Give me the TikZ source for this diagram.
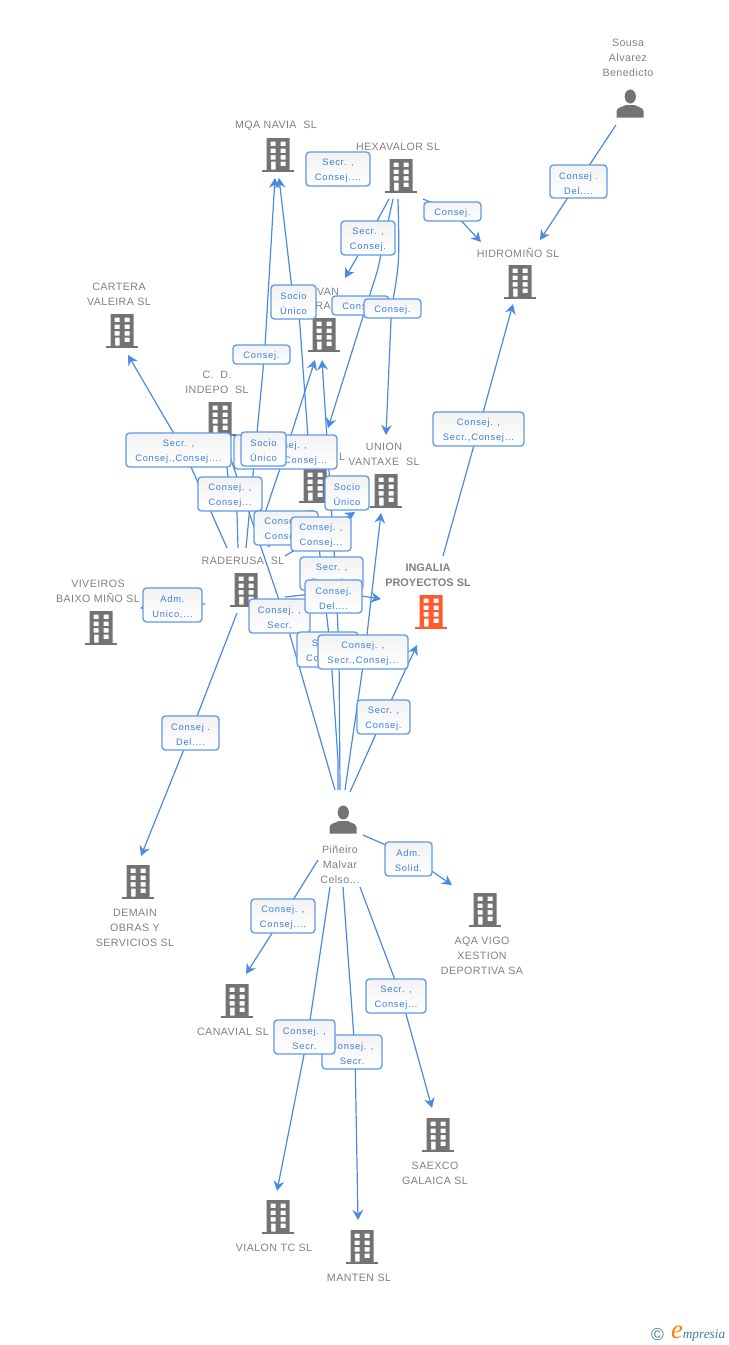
\documentclass[tikz,border=0pt]{standalone}
\usepackage{fontspec}
\usetikzlibrary{arrows.meta,backgrounds}
\setmainfont{Liberation Sans}
\newfontfamily\entfont[LetterSpace=4]{Liberation Sans}
\newfontfamily\boxfont[LetterSpace=8]{Liberation Sans}
\newfontfamily\logofont{Liberation Serif}
\definecolor{linkc}{HTML}{4A8AE0}
\definecolor{bordc}{HTML}{5F9AE8}
\definecolor{boxt}{HTML}{3B7FE0}
\definecolor{entc}{HTML}{808080}
\definecolor{iconc}{HTML}{737373}
\definecolor{hotc}{HTML}{FF5A2B}
\definecolor{logoc}{HTML}{3F7F96}
\tikzset{
  conn/.style={draw=linkc,line width=0.9pt,line join=round},
  arr/.style={conn,-{Stealth[length=7.5pt,width=8pt,inset=2.5pt]}},
  lbl/.style={draw=bordc,line width=1pt,rounded corners=2.6pt,top color=black!5,bottom color=white,
    text=boxt,font=\boxfont\fontsize{7}{11.25}\selectfont,align=center,inner sep=0pt},
  ent/.style={text=entc,font=\entfont\fontsize{8}{11.25}\selectfont,align=center,inner sep=0pt,yshift=-1.1pt},
  entb/.style={text=entc,font=\bfseries\fontsize{8.2}{11.25}\selectfont,align=center,inner sep=0pt,yshift=-1.1pt},
  ico/.style={minimum width=24pt,minimum height=25pt,inner sep=0pt}
}
\newcommand\bldg[4]{%
  \node[ico] (#1) at (#2,#3) {};
  \begin{scope}[shift={(#2,#3)}]
    \fill[#4,even odd rule] (-11.5,-17) rectangle (11.5,15)
      (-7.5,-13.3) rectangle (-2.5,-8.8) (2.5,-13.3) rectangle (7.5,-8.8)
      (-7.5,-6.3) rectangle (-2.5,-1.8) (2.5,-6.3) rectangle (7.5,-1.8)
      (-7.5,0) rectangle (-2.5,4.5) (2.5,0) rectangle (7.5,4.5)
      (-7,6.5) rectangle (-2.5,14.5) (2.5,6.5) rectangle (7.5,11);
    \fill[#4] (-16,14.5) rectangle (16,16.6);
  \end{scope}}
\newcommand\persona[3]{%
  \node[ico] (#1) at (#2,#3) {};
  \begin{scope}[shift={(#2,#3)}]
    \fill[iconc] (0.3,-7.5) ellipse (5.6 and 7);
    \fill[iconc] (-13.5,13.5) -- (-13.5,7) .. controls (-13,3.5) and (-8,3) .. (-4,1) -- (4.5,1)
      .. controls (8,3) and (13,3.5) .. (13.5,7) -- (13.5,13.5) -- cycle;
  \end{scope}}
\newcommand\lab[6]{\node[lbl,minimum width=#4*0.75pt,minimum height=#5*0.75pt] (#1) at (#2,#3) {\rule{0pt}{8pt}#6};}
\begin{document}
\begin{tikzpicture}[x=0.75pt,y=-0.75pt]
\useasboundingbox (0,0) rectangle (728,1345);
% icons
\persona{sousa}{630}{104}
\persona{pin}{343}{820}
\bldg{mqa}{278}{155}{iconc}
\bldg{hexa}{401}{176}{iconc}
\bldg{hidro}{520}{282}{iconc}
\bldg{cartera}{122}{331}{iconc}
\bldg{van}{324}{335}{iconc}
\bldg{indepo}{220}{419}{iconc}
\bldg{lnode}{315}{486}{iconc}
\bldg{union}{386}{491}{iconc}
\bldg{rader}{246}{590}{iconc}
\bldg{viveiros}{101}{628}{iconc}
\bldg{ingalia}{431}{612}{hotc}
\bldg{demain}{138}{882}{iconc}
\bldg{aqa}{485}{910}{iconc}
\bldg{canavial}{237}{1001}{iconc}
\bldg{saexco}{438}{1135}{iconc}
\bldg{vialon}{278}{1217}{iconc}
\bldg{manten}{362}{1247}{iconc}
% entity names
\node[ent] (tsousa) at (628,56) {Sousa\\Alvarez\\Benedicto};
\node[ent] (tmqa) at (276,124) {MQA NAVIA\ \ SL};
\node[ent] (thexa) at (398,145) {HEXAVALOR SL};
\node[ent] (thidro) at (518,251) {HIDROMIÑO SL};
\node[ent] (tcartera) at (119,292.5) {CARTERA\\VALEIRA SL};
\node[ent] (tindepo) at (217,380.5) {C.\ \ D.\\INDEPO\ \ SL};
\node[ent] (tvana) at (328,290) {VAN};
\node[ent] (tvanb) at (323,304) {RA};
\node[ent] (tl) at (342,455) {L};
\node[ent] (tunion) at (384,452.5) {UNION\\VANTAXE\ \ SL};
\node[ent] (trader) at (243,559) {RADERUSA\ \ SL};
\node[ent] (tviv) at (98,589.5) {VIVEIROS\\BAIXO MIÑO SL};
\node[entb] (ting) at (428,573.5) {INGALIA\\PROYECTOS SL};
\node[ent] (tpin) at (340,863) {Piñeiro\\Malvar\\Celso...};
\node[ent] (tdem) at (135,926) {DEMAIN\\OBRAS Y\\SERVICIOS SL};
\node[ent] (taqa) at (482,954) {AQA VIGO\\XESTION\\DEPORTIVA SA};
\node[ent] (tcan) at (233,1030) {CANAVIAL SL};
\node[ent] (tsae) at (435,1171.5) {SAEXCO\\GALAICA SL};
\node[ent] (tvia) at (274,1246) {VIALON TC SL};
\node[ent] (tman) at (359,1276) {MANTEN SL};
% labels
\lab{la}{578.5}{181.5}{57}{33}{Consej .\\Del....}
\lab{lb}{452.5}{211.5}{57}{19}{Consej.}
\lab{lc}{338}{169}{64}{34}{Secr. ,\\Consej....}
\lab{ld}{368}{238}{54}{34}{Secr. ,\\Consej.}
\lab{le}{293.5}{302}{45}{34}{Socio\\Único}
\lab{lf}{360.5}{305.5}{57}{19}{Consej.}
\lab{lg}{392.5}{308.5}{57}{19}{Consej.}
\lab{lh}{261.5}{354.5}{57}{19}{Consej.}
\lab{li}{478.5}{429}{91}{34}{Consej. ,\\Secr.,Consej...}
\lab{lk}{285.5}{452}{103}{34}{Consej. ,\\Consej.,Consej...}
\lab{lj}{178.5}{450}{105}{34}{Secr. ,\\Consej.,Consej....}
\lab{ll}{263.5}{449}{45}{34}{Socio\\Único}
\lab{lm}{230}{494}{64}{34}{Consej. ,\\Consej...}
\lab{ln}{347}{493}{44}{34}{Socio\\Único}
\lab{lo}{286}{528}{64}{34}{Consej. ,\\Consej...}
\lab{lp}{321}{534}{60}{34}{Consej. ,\\Consej...}
\lab{lq}{331.5}{573.5}{63}{33}{Secr. ,\\Consej...}
\lab{lr}{279.5}{616}{61}{34}{Consej. ,\\Secr.}
\lab{ls}{333.5}{596.5}{57}{33}{Consej.\\Del....}
\lab{lt}{172.5}{605}{59}{34}{Adm.\\Unico,...}
\lab{lu}{327.5}{649.5}{61}{35}{Secr. ,\\Consej...}
\lab{lv}{363}{652}{90}{34}{Consej. ,\\Secr.,Consej...}
\lab{lw}{383.5}{717}{53}{34}{Secr. ,\\Consej.}
\lab{lx}{190.5}{733}{57}{34}{Consej .\\Del....}
\lab{ly}{408.5}{859}{47}{34}{Adm.\\Solid.}
\lab{lz}{283}{916}{64}{34}{Consej. ,\\Consej....}
\lab{lza}{396}{996}{60}{34}{Secr. ,\\Consej...}
\lab{lzc}{352}{1052}{60}{34}{Consej. ,\\Secr.}
\lab{lzb}{304.5}{1037}{61}{34}{Consej. ,\\Secr.}
% logo
\node[inner sep=0pt,text=logoc] (logoa) at (657.5,1334) {\fontsize{13}{13}\selectfont ©};
\node[inner sep=0pt,text=orange] (logob) at (677,1332) {\logofont\fontsize{20}{20}\selectfont\itshape e};
\node[inner sep=0pt,text=logoc] (logoc) at (704,1335) {\logofont\fontsize{10}{10}\selectfont\itshape mpresia};
% connectors
\begin{scope}[on background layer]
\draw[arr] ([shift={(-14,21)}]sousa.center) -- (la.center) -- ([shift={(20,-42)}]hidro.center);
\draw[arr] ([shift={(22,23)}]hexa.center) -- (lb.center) -- ([shift={(-39,-40)}]hidro.center);
\draw[arr] ([shift={(-12,23)}]hexa.center) -- (ld.center) -- ([shift={(21,-57)}]van.center);
\draw[arr] ([shift={(-3,23)}]hexa.center) .. controls ([shift={(7,-45)}]lg.center) .. ([shift={(-1,0)}]lg.center) -- ([shift={(0,-56)}]union.center);
\draw[arr] ([shift={(-8,23)}]hexa.center) -- ([shift={(17,-35)}]lf.center) -- ([shift={(13,-58)}]lnode.center);
\draw[arr] ([shift={(0,-42)}]rader.center) -- ([shift={(3,0)}]lh.center) -- ([shift={(-3,23)}]mqa.center);
\draw[arr] ([shift={(-5,-21)}]lnode.center) -- ([shift={(6,18)}]le.center) -- (le.center) -- ([shift={(1,23)}]mqa.center);
\draw[arr] ([shift={(9,-47)}]rader.center) -- (lk.center) -- ([shift={(-9,25)}]van.center);
\draw[arr] ([shift={(-19,-42)}]rader.center) -- ([shift={(5,0)}]lj.center) -- ([shift={(6,24)}]cartera.center);
\draw[conn] ([shift={(-8,-42)}]rader.center) -- ([shift={(7,18)}]lm.center) -- (lm.center) -- ([shift={(5,31)}]indepo.center);
\draw[conn] ([shift={(-8,-30)}]pin.center) -- ([shift={(5,0)}]lr.center) -- ([shift={(6,26)}]indepo.center);
\draw[arr] ([shift={(22,-43)}]rader.center) -- (lo.center) -- ([shift={(-2,24)}]lnode.center);
\draw[arr] ([shift={(39,-34)}]rader.center) -- (lp.center) -- ([shift={(-31,21)}]union.center);
\draw[arr] ([shift={(39,7)}]rader.center) -- ([shift={(0,-5)}]ls.center) -- ([shift={(-50,-13)}]ingalia.center);
\draw[arr] ([shift={(-9,23)}]rader.center) -- (lx.center) -- ([shift={(3,-26)}]demain.center);
\draw[arr] ([shift={(-41,14)}]rader.center) -- (lt.center) -- ([shift={(39,-20)}]viveiros.center);
\draw[arr] ([shift={(12,-56)}]ingalia.center) -- (li.center) -- ([shift={(-7,22)}]hidro.center);
\draw[arr] ([shift={(-3,-30)}]pin.center) -- ([shift={(-24,0)}]lv.center) -- ([shift={(4,0)}]lq.center) -- ([shift={(-2,25)}]van.center);
\draw[arr] ([shift={(-5,-30)}]pin.center) -- ([shift={(-5,-60)}]pin.center) -- ([shift={(3,0)}]lu.center) -- ([shift={(0,25)}]lnode.center);
\draw[arr] ([shift={(2,-30)}]pin.center) -- ([shift={(2,0)}]lv.center) -- ([shift={(-5,22)}]union.center);
\draw[arr] ([shift={(7,-28)}]pin.center) -- (lw.center) -- ([shift={(-14,33)}]ingalia.center);
\draw[arr] ([shift={(-25,40)}]pin.center) -- (lz.center) -- ([shift={(9,-27)}]canavial.center);
\draw[arr] ([shift={(-13,67)}]pin.center) -- ([shift={(3,0)}]lzb.center) -- ([shift={(-1,-26)}]vialon.center);
\draw[arr] ([shift={(0,67)}]pin.center) -- ([shift={(3,0)}]lzc.center) -- ([shift={(-4,-27)}]manten.center);
\draw[arr] ([shift={(17,67)}]pin.center) -- ([shift={(5,0)}]lza.center) -- ([shift={(-6,-27)}]saexco.center);
\draw[arr] ([shift={(20,15)}]pin.center) -- ([shift={(0,-4)}]ly.center) -- ([shift={(-33,-25)}]aqa.center);
\end{scope}
\end{tikzpicture}
\end{document}
